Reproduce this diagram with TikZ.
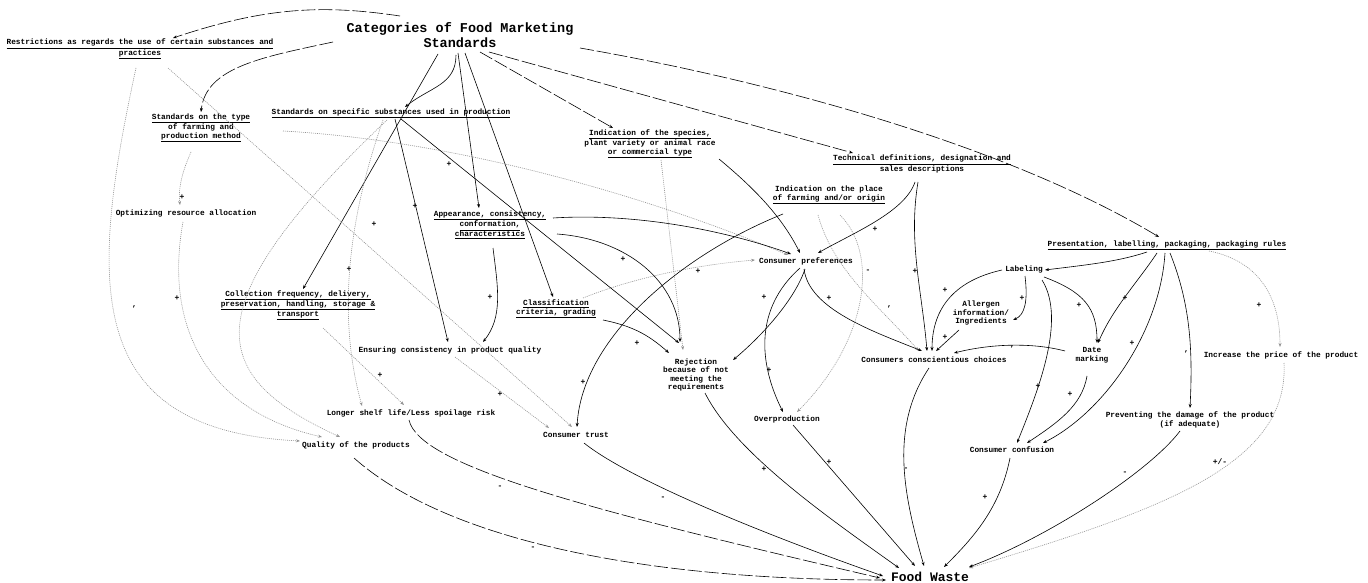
\documentclass[tikz,border=0pt]{standalone}
\usepackage{fontspec}
\setmainfont{Liberation Mono}
\usetikzlibrary{arrows.meta}

\tikzset{
  var/.style={font=\fontsize{7.8}{8.6}\selectfont\bfseries, align=center, inner sep=1pt},
  head/.style={font=\fontsize{13.5}{15}\selectfont\bfseries, align=center, inner sep=1pt},
  sink/.style={font=\fontsize{13}{14}\selectfont\bfseries, inner sep=1pt},
  pol/.style={font=\fontsize{8}{8}\selectfont\bfseries, inner sep=0pt},
  link/.style={line width=0.6pt, -{Stealth[length=4pt,width=3pt]}},
  faint/.style={link, gray!85, dash pattern=on 1pt off 1pt},
  longdash/.style={link, dash pattern=on 14pt off 3pt},
}

\begin{document}
\begin{tikzpicture}[x=1pt,y=1pt]
        \useasboundingbox (0,0) rectangle (1368,-583);

        % variables
        \node[head] (cat) at (460,-35) {Categories of Food Marketing\\Standards};
        \node[var] (restr) at (140,-49) {\underline{Restrictions as regards the use of certain substances and}\\\underline{practices}};
        \node[var] (farmtype) at (201,-128) {\underline{Standards on the type}\\of farming and\\\underline{production method}};
        \node[var] (subst) at (391,-113) {\underline{Standards on specific substances used in production}};
        \node[var] (species) at (650,-144) {\underline{Indication of the species,}\\plant variety or animal race\\\underline{or commercial type}};
        \node[var] (techdef) at (922,-164) {\underline{Technical definitions, designation and}\\sales descriptions};
        \node[var] (place) at (829,-195) {Indication on the place\\\underline{of farming and/or origin}};
        \node[var] (optim) at (186,-213) {Optimizing resource allocation};
        \node[var] (appear) at (490,-225) {\underline{Appearance, consistency,}\\\underline{conformation,}\\\underline{characteristics}};
        \node[var] (prefs) at (806,-261) {Consumer preferences};
        \node[var] (presrules) at (1167,-245) {\underline{Presentation, labelling, packaging, packaging rules}};
        \node[var] (labeling) at (1024,-269) {Labeling};
        \node[var] (allergen) at (981,-313) {Allergen\\information/\\Ingredients};
        \node[var] (collect) at (298,-305) {\underline{Collection frequency, delivery,}\\\underline{preservation, handling, storage \&}\\\underline{transport}};
        \node[var] (classif) at (556,-309) {\underline{Classification}\\\underline{criteria, grading}};
        \node[var] (ensure) at (450,-350) {Ensuring consistency in product quality};
        \node[var] (reject) at (696,-375) {Rejection\\because of not\\meeting the\\requirements};
        \node[var] (choices) at (934,-360) {Consumers conscientious choices};
        \node[var] (datemark) at (1092,-355) {Date\\marking};
        \node[var] (price) at (1281,-355) {Increase the price of the product};
        \node[var] (shelf) at (411,-413) {Longer shelf life/Less spoilage risk};
        \node[var] (overprod) at (787,-419) {Overproduction};
        \node[var] (trust) at (576,-435) {Consumer trust};
        \node[var] (quality) at (356,-445) {Quality of the products};
        \node[var] (confusion) at (1012,-450) {Consumer confusion};
        \node[var] (prevent) at (1190,-420) {Preventing the damage of the product\\(if adequate)};
        \node[sink] (waste) at (930,-577) {Food Waste};

        % links from the categories
        \draw[longdash] ([shift={(-60,19)}]cat.center) .. controls +(-80,12) and +(90,30) .. ([shift={(33,11)}]restr.center);
        \draw[longdash] ([shift={(-127,-7)}]cat.center) .. controls +(-70,-15) and +(5,45) .. ([shift={(0,16)}]farmtype.center);
        \draw[link] ([shift={(-4,-20)}]cat.center) .. controls +(0,-30) and +(25,20) .. ([shift={(14,6)}]subst.center);
        \draw[link] ([shift={(-22,-19)}]cat.center) -- ([shift={(5,16)}]collect.center);
        \draw[link] ([shift={(-2,-18)}]cat.center) -- ([shift={(-11,17)}]appear.center);
        \draw[link] ([shift={(5,-18)}]cat.center) -- ([shift={(-3,12)}]classif.center);
        \draw[longdash] ([shift={(20,-17)}]cat.center) -- ([shift={(-37,16)}]species.center);
        \draw[longdash] ([shift={(29,-17)}]cat.center) -- ([shift={(-69,11)}]techdef.center);
        \draw[longdash] ([shift={(120,-13)}]cat.center) .. controls +(200,-35) and +(-150,90) .. ([shift={(-8,8)}]presrules.center);

        % left part
        \draw[faint] ([shift={(-4,-19)}]restr.center) .. controls +(-46,-212) and +(-220,11) .. ([shift={(-56,4)}]quality.center);
        \draw[faint] ([shift={(28,-19)}]restr.center) -- ([shift={(-4,8)}]trust.center);
        \draw[faint] ([shift={(-10,-24)}]farmtype.center) .. controls +(-8,-18) and +(-2,18) .. ([shift={(-6,8)}]optim.center);
        \draw[faint] ([shift={(82,-3)}]farmtype.center) .. controls +(180,-10) and +(-130,55) .. ([shift={(-18,6)}]prefs.center);
        \draw[faint] ([shift={(-3,-9)}]optim.center) .. controls +(-20,-110) and +(-110,25) .. ([shift={(-34,8)}]quality.center);
        \draw[link] ([shift={(4,-6)}]subst.center) -- ([shift={(-2,8)}]ensure.center);
        \draw[link] ([shift={(10,-6)}]subst.center) -- ([shift={(-17,32)}]reject.center);
        \draw[faint] ([shift={(-4,-7)}]subst.center) .. controls +(-200,-190) and +(-130,60) .. ([shift={(-16,8)}]quality.center);
        \draw[faint] ([shift={(-8,-7)}]subst.center) .. controls +(-35,-100) and +(-25,90) .. ([shift={(-49,7)}]shelf.center);
        \draw[faint] ([shift={(5,-7)}]ensure.center) -- ([shift={(-27,7)}]trust.center);
        \draw[faint] ([shift={(25,-23)}]collect.center) -- ([shift={(-7,8)}]shelf.center);

        % middle part
        \draw[link] ([shift={(3,-23)}]appear.center) .. controls +(5,-40) and +(20,25) .. ([shift={(33,8)}]ensure.center);
        \draw[link] ([shift={(63,7)}]appear.center) .. controls +(80,5) and +(-70,25) .. ([shift={(-15,7)}]prefs.center);
        \draw[link] ([shift={(67,-9)}]appear.center) .. controls +(70,-5) and +(0,60) .. ([shift={(-16,33)}]reject.center);
        \draw[faint] ([shift={(27,11)}]classif.center) .. controls +(50,20) and +(-60,-5) .. ([shift={(-51,1)}]prefs.center);
        \draw[link] ([shift={(47,-11)}]classif.center) to[bend left=15] ([shift={(-27,22)}]reject.center);
        \draw[faint] ([shift={(11,-16)}]species.center) -- ([shift={(-13,25)}]reject.center);
        \draw[link] ([shift={(69,-15)}]species.center) .. controls +(30,-25) and +(-20,40) .. ([shift={(-6,8)}]prefs.center);
        \draw[link] ([shift={(-46,-19)}]place.center) .. controls +(-100,-40) and +(5,90) .. ([shift={(1,8)}]trust.center);
        \draw[faint] ([shift={(-11,-20)}]place.center) .. controls +(15,-55) and +(-40,45) .. ([shift={(-15,9)}]choices.center);
        \draw[faint] ([shift={(11,-20)}]place.center) .. controls +(40,-40) and +(70,70) .. ([shift={(10,7)}]overprod.center);
        \draw[link] ([shift={(-7,-18)}]techdef.center) .. controls +(-10,-30) and +(35,20) .. ([shift={(12,8)}]prefs.center);
        \draw[link] ([shift={(-4,-18)}]techdef.center) .. controls +(-10,-60) and +(-5,60) .. ([shift={(-7,9)}]choices.center);
        \draw[link] ([shift={(-1,-8)}]prefs.center) .. controls +(-10,-30) and +(30,25) .. ([shift={(37,15)}]reject.center);
        \draw[link] ([shift={(-6,-7)}]prefs.center) .. controls +(-45,-40) and +(-25,50) .. ([shift={(-4,7)}]overprod.center);
        \draw[link] ([shift={(-2,-8)}]prefs.center) .. controls +(5,-40) and +(-50,20) .. ([shift={(-12,9)}]choices.center);

        % right part
        \draw[link] ([shift={(-20,-7)}]presrules.center) .. controls +(-30,-10) and +(40,5) .. ([shift={(21,-1)}]labeling.center);
        \draw[link] ([shift={(-10,-8)}]presrules.center) .. controls +(-20,-30) and +(15,35) .. ([shift={(6,12)}]datemark.center);
        \draw[link] ([shift={(-2,-8)}]presrules.center) .. controls +(-5,-80) and +(60,30) .. ([shift={(31,7)}]confusion.center);
        \draw[link] ([shift={(3,-8)}]presrules.center) .. controls +(20,-50) and +(3,60) .. ([shift={(0,12)}]prevent.center);
        \draw[faint] ([shift={(42,-6)}]presrules.center) .. controls +(50,-10) and +(0,50) .. ([shift={(-1,8)}]price.center);
        \draw[link] ([shift={(-22,-1)}]labeling.center) .. controls +(-45,-10) and +(0,45) .. ([shift={(-2,9)}]choices.center);
        \draw[link] ([shift={(1,-7)}]labeling.center) .. controls +(3,-25) and +(12,5) .. ([shift={(32,-7)}]allergen.center);
        \draw[link] ([shift={(20,-8)}]labeling.center) .. controls +(40,-15) and +(0,35) .. ([shift={(5,12)}]datemark.center);
        \draw[link] ([shift={(18,-11)}]labeling.center) .. controls +(25,-40) and +(20,50) .. ([shift={(5,7)}]confusion.center);
        \draw[link] ([shift={(-22,-17)}]allergen.center) -- ([shift={(2,9)}]choices.center);
        \draw[link] ([shift={(-27,4)}]datemark.center) .. controls +(-30,8) and +(40,10) .. ([shift={(20,7)}]choices.center);
        \draw[link] ([shift={(-5,-21)}]datemark.center) .. controls +(-5,-30) and +(30,20) .. ([shift={(15,7)}]confusion.center);

        % into food waste
        \draw[faint] ([shift={(3,-8)}]price.center) .. controls +(5,-100) and +(200,60) .. ([shift={(39,9)}]waste.center);
        \draw[link] ([shift={(-10,-11)}]prevent.center) .. controls +(-30,-40) and +(80,30) .. ([shift={(39,10)}]waste.center);
        \draw[link] ([shift={(-2,-8)}]confusion.center) .. controls +(-10,-50) and +(30,30) .. ([shift={(14,10)}]waste.center);
        \draw[link] ([shift={(-5,-8)}]choices.center) .. controls +(-40,-60) and +(-20,70) .. ([shift={(-6,11)}]waste.center);
        \draw[link] ([shift={(6,-6)}]overprod.center) -- ([shift={(-15,11)}]waste.center);
        \draw[link] ([shift={(9,-18)}]reject.center) .. controls +(30,-60) and +(-70,50) .. ([shift={(-31,9)}]waste.center);
        \draw[link] ([shift={(8,-8)}]trust.center) .. controls +(50,-40) and +(-100,35) .. ([shift={(-47,1)}]waste.center);
        \draw[longdash] ([shift={(-2,-7)}]shelf.center) .. controls +(10,-45) and +(-300,70) .. ([shift={(-50,-1)}]waste.center);
        \draw[longdash] ([shift={(-2,-13)}]quality.center) .. controls +(90,-80) and +(-250,0) .. ([shift={(-44,-3)}]waste.center);

        % polarities
        \node[pol] (p1) at (182,-197) {+};
        \node[pol] (p2) at (134,-309) {\symbol{39}};
        \node[pol] (p3) at (177,-298) {+};
        \node[pol] (p4) at (415,-206) {+};
        \node[pol] (p5) at (449,-164) {+};
        \node[pol] (p6) at (374,-224) {+};
        \node[pol] (p7) at (349,-269) {+};
        \node[pol] (p8) at (380,-375) {+};
        \node[pol] (p9) at (500,-394) {+};
        \node[pol] (p10) at (490,-297) {+};
        \node[pol] (p11) at (623,-259) {+};
        \node[pol] (p12) at (698,-271) {+};
        \node[pol] (p13) at (637,-343) {+};
        \node[pol] (p14) at (583,-382) {+};
        \node[pol] (p15) at (764,-297) {+};
        \node[pol] (p16) at (769,-370) {+};
        \node[pol] (p17) at (829,-298) {+};
        \node[pol] (p18) at (875,-229) {+};
        \node[pol] (p19) at (868,-271) {-};
        \node[pol] (p20) at (889,-309) {\symbol{39}};
        \node[pol] (p21) at (915,-271) {+};
        \node[pol] (p22) at (945,-290) {+};
        \node[pol] (p23) at (945,-337) {+};
        \node[pol] (p24) at (1022,-298) {+};
        \node[pol] (p25) at (1079,-305) {+};
        \node[pol] (p26) at (1125,-298) {+};
        \node[pol] (p27) at (1012,-349) {\symbol{39}};
        \node[pol] (p28) at (1132,-343) {+};
        \node[pol] (p29) at (1186,-354) {\symbol{39}};
        \node[pol] (p30) at (1259,-305) {+};
        \node[pol] (p31) at (1038,-386) {+};
        \node[pol] (p32) at (1070,-394) {+};
        \node[pol] (p33) at (985,-497) {+};
        \node[pol] (p34) at (1125,-473) {-};
        \node[pol] (p35) at (1220,-462) {+/-};
        \node[pol] (p36) at (906,-469) {-};
        \node[pol] (p37) at (829,-462) {+};
        \node[pol] (p38) at (764,-469) {+};
        \node[pol] (p39) at (663,-498) {-};
        \node[pol] (p40) at (500,-487) {-};
        \node[pol] (p41) at (533,-548) {-};
    \end{tikzpicture}
\end{document}
